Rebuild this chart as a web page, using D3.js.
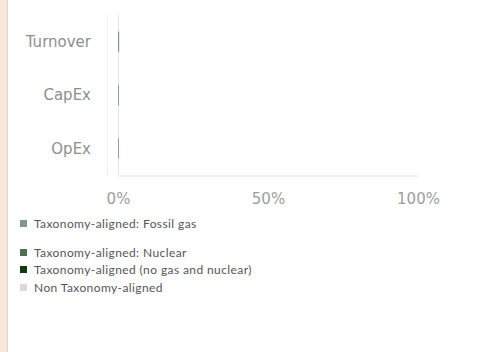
<!DOCTYPE html>
<html>
<head>
<meta charset="utf-8">
<script src="https://d3js.org/d3.v7.min.js"></script>
<style>
  body { margin: 0; background: #fff; }
  svg { display: block; }
</style>
</head>
<body>
<div id="chart"></div>
<script>
// chart data
const categories = ["Turnover", "CapEx", "OpEx"];
const seriesNames = [
  "Taxonomy-aligned: Fossil gas",
  "Taxonomy-aligned: Nuclear",
  "Taxonomy-aligned (no gas and nuclear)",
  "Non Taxonomy-aligned"
];
const fossilGas = [0.4, 0.3, 0.3];
const nuclear = [0, 0, 0];
const alignedOther = [0, 0, 0];
const nonAligned = [0, 0, 0];
const xTicks = [0, 50, 100];
const colors = ["#7f9a83", "#4c7350", "#0f3a0c", "#d9d9d9"];

const W = 500, H = 352;
const svg = d3.select("#chart").append("svg")
  .attr("width", W).attr("height", H);

// beige strip on the left
svg.append("rect").attr("x", 0).attr("y", 0).attr("width", 7).attr("height", H).attr("fill", "#fbe8d6");
svg.append("line").attr("x1", 7.5).attr("x2", 7.5).attr("y1", 0).attr("y2", H)
  .attr("stroke", "#d6d6d6").attr("stroke-width", 1);

const x = d3.scaleLinear().domain([0, 100]).range([118, 418]);
const y = d3.scaleBand().domain(categories).range([15, 175]).paddingInner(0.62).paddingOuter(0.31);

// faint y axis line
svg.append("line").attr("x1", 107.5).attr("x2", 107.5).attr("y1", 15).attr("y2", 175)
  .attr("stroke", "#efefef");

// zero line
svg.append("line").attr("x1", x(0) + 0.5).attr("x2", x(0) + 0.5).attr("y1", 15).attr("y2", 175)
  .attr("stroke", "#e4e4e4");

// stacked bars
const rows = categories.map((c, i) => ({
  cat: c, s0: fossilGas[i], s1: nuclear[i], s2: alignedOther[i], s3: nonAligned[i]
}));
const stack = d3.stack().keys(["s0", "s1", "s2", "s3"])(rows);
svg.append("g").selectAll("g").data(stack).join("g")
  .attr("fill", (d, i) => colors[i])
  .selectAll("rect").data(d => d).join("rect")
  .attr("x", d => x(d[0]))
  .attr("y", d => y(d.data.cat))
  .attr("width", d => Math.max(0, x(d[1]) - x(d[0])))
  .attr("height", y.bandwidth());

// bottom axis
const xAxis = svg.append("g").attr("transform", "translate(0,175.5)")
  .call(d3.axisBottom(x).tickValues(xTicks).tickFormat(d => d + "%").tickSize(0).tickPadding(18));
xAxis.select(".domain").attr("stroke", "#e0e0e0");
xAxis.selectAll("text")
  .attr("fill", "#9d9d9d")
  .style("font-family", "DejaVu Sans")
  .style("font-size", "15px");

// category labels
svg.append("g").selectAll("text").data(categories).join("text")
  .attr("x", 91)
  .attr("y", d => y(d) + y.bandwidth() / 2)
  .attr("dy", "0.35em")
  .attr("text-anchor", "end")
  .attr("fill", "#8e8e8e")
  .style("font-family", "DejaVu Sans")
  .style("font-size", "15px")
  .text(d => d);

// legend
const legendY = [224, 253, 270, 288];
const lg = svg.append("g").selectAll("g").data(seriesNames).join("g")
  .attr("transform", (d, i) => "translate(20," + legendY[i] + ")");
lg.append("rect").attr("x", 0).attr("y", -4).attr("width", 7).attr("height", 7)
  .attr("fill", (d, i) => colors[i]);
lg.append("text").attr("x", 14).attr("y", 0).attr("dy", "0.35em")
  .attr("fill", "#555")
  .style("font-family", "Lato")
  .style("font-size", "12px")
  .style("letter-spacing", "0.4px")
  .text(d => d);
</script>
</body>
</html>
